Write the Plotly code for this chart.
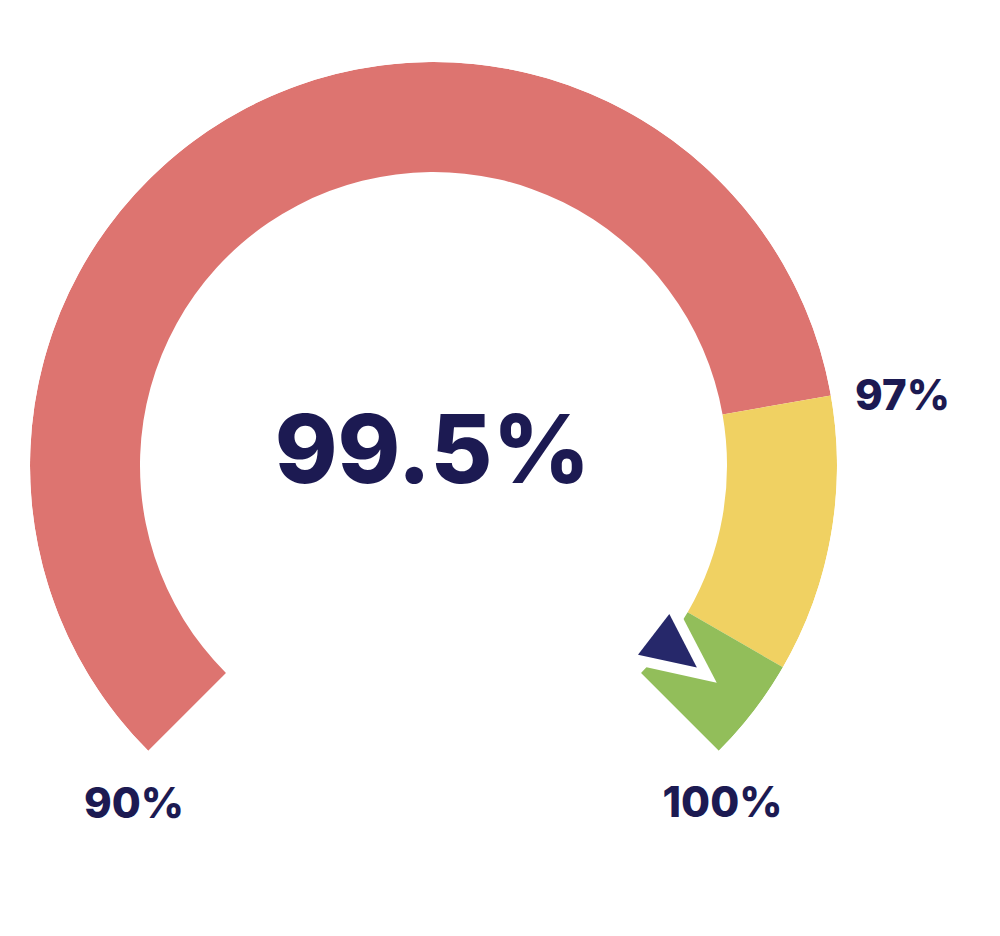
import math
import plotly.graph_objects as go

# ---- data ----
thresholds = [90, 97, 99, 100]          # gauge band limits (%)
band_colors = ["#DD7470", "#F0D162", "#92BE5A"]
value = 99.5
tick_values = [90, 97, 100]
tick_labels = ["90%", "97%", "100%"]
center_label = "99.5%"

# ---- style / layout ----
W, H = 1000, 936
PAGE_OFF = 8                      # browser body margin
CX, CY = 433.5 - PAGE_OFF, 465.5 - PAGE_OFF   # gauge centre in figure px (from top-left)
R_OUT, R_IN = 403.5, 293.5
SEGMENT_SWEEP = [215, 40, 15]     # angular share of each band (deg), total 270
START_DEG = 225
NAVY = "#1C1A52"
POINTER = "#26286A"
FONT = "Inter"
LABEL_VBIAS = -3

def scale(v):
    """piecewise gauge scale -> sweep angle (deg, clockwise from start)"""
    acc = 0.0
    for i in range(len(thresholds) - 1):
        lo, hi = thresholds[i], thresholds[i + 1]
        if v <= hi or i == len(thresholds) - 2:
            return acc + (v - lo) / (hi - lo) * SEGMENT_SWEEP[i]
        acc += SEGMENT_SWEEP[i]
    return acc

fig = go.Figure()

# bands
thetas, widths = [], []
for i in range(len(band_colors)):
    a0, a1 = scale(thresholds[i]), scale(thresholds[i + 1])
    thetas.append((a0 + a1) / 2)
    widths.append(a1 - a0)
fig.add_trace(go.Barpolar(
    theta=thetas, width=widths, r=[R_OUT - R_IN] * 3, base=[R_IN] * 3,
    marker=dict(color=band_colors, line=dict(width=0)),
    hoverinfo="skip", showlegend=False))

# pointer (white backing + navy triangle)
tv = scale(value)
for (r_base, r_tip, half, col) in [(285.5, 357, 6.9, "white"), (278.7, 332, 5.3, POINTER)]:
    fig.add_trace(go.Scatterpolar(
        theta=[tv - half, tv + half, tv, tv - half],
        r=[r_base, r_base, r_tip, r_base],
        mode="lines", fill="toself", fillcolor=col,
        line=dict(width=0, color=col), hoverinfo="skip",
        showlegend=False, cliponaxis=False))

# tick labels on a cartesian overlay (px units, origin at gauge centre)
label_offsets = {90: (-3.5, 452), 97: (1.6, 474), 100: (4.5, 445)}
lx, ly = [], []
for v in tick_values:
    dth, rr = label_offsets[v]
    ang = math.radians(START_DEG - (scale(v) + dth))
    lx.append(rr * math.cos(ang))
    ly.append(rr * math.sin(ang) + LABEL_VBIAS)
fig.add_trace(go.Scatter(
    x=lx, y=ly, mode="text", text=tick_labels, textposition="middle center",
    textfont=dict(family=FONT, size=42, color=NAVY, weight=800),
    hoverinfo="skip", showlegend=False, cliponaxis=False))

# centre value
fig.add_trace(go.Scatter(
    x=[-1], y=[6], mode="text", text=[center_label],
    textposition="middle center",
    textfont=dict(family=FONT, size=95, color=NAVY, weight=800),
    hoverinfo="skip", showlegend=False, cliponaxis=False))

fig.update_layout(
    width=W, height=H,
    margin=dict(l=0, r=0, t=0, b=0),
    paper_bgcolor="white", plot_bgcolor="rgba(0,0,0,0)",
    showlegend=False,
    xaxis=dict(range=[-CX, W - CX], visible=False, domain=[0, 1], fixedrange=True),
    yaxis=dict(range=[-(H - CY), CY], visible=False, domain=[0, 1], fixedrange=True),
    polar=dict(
        domain=dict(x=[(CX - R_OUT) / W, (CX + R_OUT) / W],
                    y=[(H - CY - R_OUT) / H, (H - CY + R_OUT) / H]),
        bgcolor="rgba(0,0,0,0)",
        radialaxis=dict(range=[0, R_OUT], visible=False),
        angularaxis=dict(rotation=START_DEG, direction="clockwise", visible=False),
    ),
)

fig.write_html("out.html")
